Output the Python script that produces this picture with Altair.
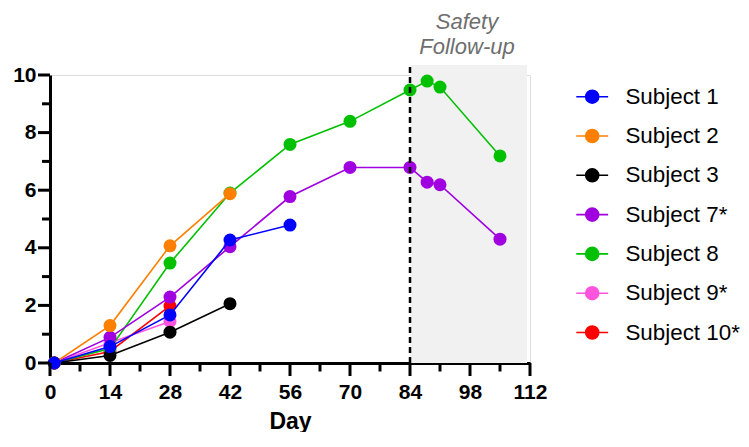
import altair as alt
import pandas as pd

subjects = ["Subject 1", "Subject 2", "Subject 3", "Subject 7*", "Subject 8", "Subject 9*", "Subject 10*"]
colors = ["#0000ff", "#ff8000", "#000000", "#a000e0", "#00c000", "#ff55dd", "#ff0000"]

s1_days = [1, 14, 28, 42, 56]
s1_vals = [0, 0.57, 1.67, 4.27, 4.79]
s2_days = [1, 14, 28, 42]
s2_vals = [0, 1.30, 4.07, 5.88]
s3_days = [1, 14, 28, 42]
s3_vals = [0, 0.26, 1.07, 2.06]
s7_days = [1, 14, 28, 42, 56, 70, 84, 88, 91, 105]
s7_vals = [0, 0.89, 2.29, 4.04, 5.78, 6.79, 6.79, 6.28, 6.19, 4.30]
s8_days = [1, 14, 28, 42, 56, 70, 84, 88, 91, 105]
s8_vals = [0, 0.5, 3.47, 5.9, 7.59, 8.39, 9.48, 9.79, 9.58, 7.19]
s9_days = [1, 14, 28]
s9_vals = [0, 0.7, 1.44]
s10_days = [1, 14, 28]
s10_vals = [0, 0.4, 1.98]

x_major = [0, 14, 28, 42, 56, 70, 84, 98, 112]
x_minor = [7, 21, 35, 49, 63, 77, 91, 105]
y_major = [0, 2, 4, 6, 8, 10]
y_minor = [1, 3, 5, 7, 9]

follow_start = [84]
follow_end = [111.3]
follow_top = [10.35]
note_lines = ["Safety", "Follow-up"]
note_y = [11.6, 10.73]
note_x = [97.3, 97.3]

series = [
    (subjects[0], s1_days, s1_vals),
    (subjects[1], s2_days, s2_vals),
    (subjects[2], s3_days, s3_vals),
    (subjects[3], s7_days, s7_vals),
    (subjects[4], s8_days, s8_vals),
    (subjects[5], s9_days, s9_vals),
    (subjects[6], s10_days, s10_vals),
]
rows = []
for name, d, v in series:
    for a, b in zip(d, v):
        rows.append({"subject": name, "day": a, "value": b})
df = pd.DataFrame(rows)

FONT = "Liberation Sans"
W, H = 480, 288
XMAX, YMAX = 112, 10
PX_X = XMAX / W   # data units per pixel, x
PX_Y = YMAX / H   # data units per pixel, y
X_TICK, X_MINOR = 13, 8.5
Y_TICK, Y_MINOR = 12, 8

xscale = alt.Scale(domain=[0, XMAX], nice=False, zero=False)
yscale = alt.Scale(domain=[0, YMAX], nice=False)
cscale = alt.Scale(domain=subjects, range=colors)

legend_path = "M-2.45,0H2.45M-1,0A1,1 0 1,1 1,0A1,1 0 1,1 -1,0Z"

legend = alt.Legend(
    title=None,
    orient="none",
    legendX=531,
    legendY=10.5,
    symbolType=legend_path,
    symbolSize=169,
    symbolStrokeWidth=1.6,
    labelFontSize=22.4,
    labelFont=FONT,
    labelColor="#000000",
    labelOffset=22,
    rowPadding=16.3,
    labelLimit=300,
)

xaxis = alt.Axis(
    values=x_major,
    title="Day",
    titleFont=FONT,
    titleFontSize=23,
    titleFontWeight="bold",
    titleColor="#000000",
    titlePadding=8,
    labelFont=FONT,
    labelFontSize=21,
    labelFontWeight="bold",
    labelColor="#000000",
    labelPadding=5 + X_TICK,
    labelFlush=False,
    ticks=False,
    domainWidth=3,
    domainColor="#000000",
    grid=False,
)
yaxis = alt.Axis(
    values=y_major,
    title=None,
    labelFont=FONT,
    labelFontSize=21,
    labelFontWeight="bold",
    labelColor="#000000",
    labelPadding=2 + Y_TICK,
    labelFlush=False,
    ticks=False,
    domainWidth=3,
    domainColor="#000000",
    grid=False,
)

band_df = pd.DataFrame({"x": follow_start, "x2": follow_end, "y": [0], "y2": follow_top})
band = alt.Chart(band_df).mark_rect(color="#f1f1f1").encode(
    x=alt.X("x:Q", scale=xscale, axis=xaxis),
    x2="x2:Q",
    y=alt.Y("y:Q", scale=yscale, axis=yaxis),
    y2="y2:Q",
)
vline = alt.Chart(band_df).mark_rule(color="#000000", strokeWidth=2.5, strokeDash=[6, 4]).encode(
    x="x:Q", y="y:Q", y2="y2:Q"
)
note_df = pd.DataFrame({"x": note_x, "y": note_y, "t": note_lines})
note = alt.Chart(note_df).mark_text(
    font=FONT, fontSize=22, fontStyle="italic", color="#6e6e6e", baseline="alphabetic", align="center"
).encode(x="x:Q", y="y:Q", text="t:N")

# axis tick marks (major longer, minor shorter), placed through the scales
xt = pd.DataFrame(
    {"v": x_major + x_minor,
     "len": [-X_TICK * PX_Y] * len(x_major) + [-X_MINOR * PX_Y] * len(x_minor)}
)
yt = pd.DataFrame(
    {"v": y_major + y_minor,
     "len": [-Y_TICK * PX_X] * len(y_major) + [-Y_MINOR * PX_X] * len(y_minor)}
)
xticks = alt.Chart(xt).transform_calculate(z="0").mark_rule(
    color="#000000", strokeWidth=3, strokeCap="butt"
).encode(x="v:Q", y="z:Q", y2="len:Q")
yticks = alt.Chart(yt).transform_calculate(z="0").mark_rule(
    color="#000000", strokeWidth=3, strokeCap="butt"
).encode(y="v:Q", x="z:Q", x2="len:Q")

layers = [band]
for name in reversed(subjects):
    layers.append(
        alt.Chart(df).transform_filter(alt.datum.subject == name).mark_line(
            strokeWidth=1.6,
            point=alt.OverlayMarkDef(filled=True, size=169, opacity=1),
        ).encode(
            x=alt.X("day:Q", scale=xscale, axis=xaxis),
            y=alt.Y("value:Q", scale=yscale, axis=yaxis),
            color=alt.Color("subject:N", scale=cscale, legend=legend),
        )
    )
layers += [vline, note, xticks, yticks]

chart = alt.layer(*layers).properties(
    width=W,
    height=H,
    autosize=alt.AutoSizeParams(type="none"),
    padding={"left": 42, "top": 67, "right": 211, "bottom": 69},
).configure_view(stroke=None).configure(background="#ffffff")

chart.save("out.html", embed_options={"renderer": "svg", "actions": False})
